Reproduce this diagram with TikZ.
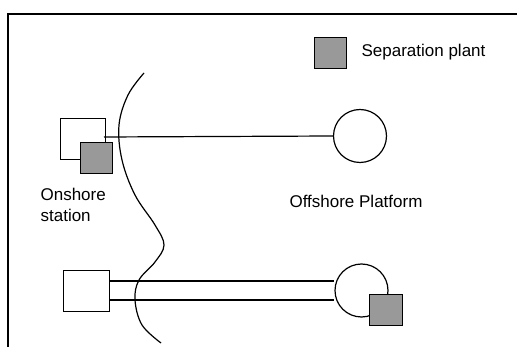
\documentclass[tikz,border=0pt]{standalone}
\usepackage{fontspec}
\setmainfont{Liberation Sans}
\begin{document}
\begin{tikzpicture}[x=1pt,y=-1pt,line width=1.2pt,
  plant/.style={draw,fill=gray!80!white,minimum width=32pt,minimum height=31pt,inner sep=0pt,anchor=north west},
  station/.style={draw,fill=white,minimum width=45pt,minimum height=41pt,inner sep=0pt,anchor=north west},
  platform/.style={draw,fill=white,circle,minimum size=53pt,inner sep=0pt},
  lbl/.style={font=\fontsize{17}{21}\selectfont,inner sep=0pt}]
\useasboundingbox (0,0) rectangle (517,347);
% frame
\draw (517,14) -- (8,14) -- (8,347);
% legend
\node[plant] (leg) at (314,37) {};
\node[lbl,anchor=west] (legt) at (361,52) {Separation plant};
% coast line
\draw[line width=1.2pt] plot[smooth,tension=0.6] coordinates {(144,73) (128,95) (119,125) (122,160) (135,195) (155,225) (164,245) (155,262) (139,280) (135,300) (142,325) (161,343)};
% top
\node[station] (s1) at (60,118) {};
\node[plant] (p1) at (80,142) {};
\node[platform] (o1) at (360,136) {};
\coordinate (s1e) at (104,137);
\draw (s1e) -- (o1.west);
\node[lbl,anchor=north west,align=left] (onl) at (40,188) {Onshore\\station};
\node[lbl] (offl) at (356,201) {Offshore Platform};
% bottom
\node[station,minimum height=41pt,minimum width=46pt] (s2) at (63,270) {};
\node[platform] (o2) at (361.5,290.5) {};
\draw (s2.east |- 0,281) -- (o2.west |- 0,281);
\draw (s2.east |- 0,300) -- (o2.west |- 0,300);
\node[plant,minimum width=33pt] (p2) at (369,294) {};
\end{tikzpicture}
\end{document}
